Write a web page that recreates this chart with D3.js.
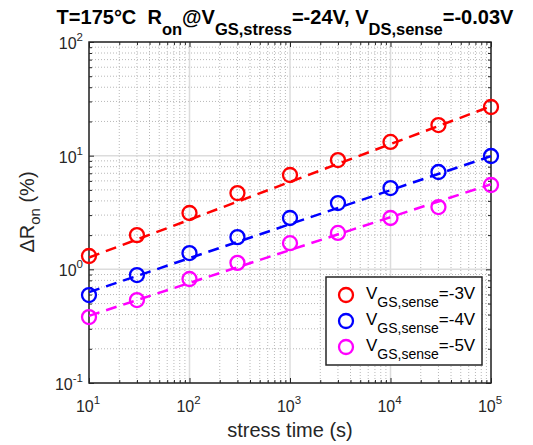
<!DOCTYPE html>
<html><head><meta charset="utf-8">
<script src="https://cdn.jsdelivr.net/npm/d3@7"></script>
<style>
html,body{margin:0;padding:0;background:#fff;}
svg{display:block;font-family:"Liberation Sans",Arial,Helvetica,sans-serif;}
</style></head>
<body>
<svg id="chart" width="533" height="445"></svg>
<script>
// ---- data ----
const times = [10, 30, 100, 300, 1000, 3000, 10000, 30000, 100000];
const vgs3 = [1.31, 2.00, 3.13, 4.69, 6.76, 9.15, 13.2, 18.6, 26.8];
const vgs4 = [0.594, 0.891, 1.39, 1.92, 2.83, 3.83, 5.19, 7.18, 9.93];
const vgs5 = [0.380, 0.537, 0.822, 1.14, 1.70, 2.09, 2.83, 3.53, 5.52];
const fitTimes = [10, 100000];
const fit3 = [1.27, 27.2];
const fit4 = [0.63, 9.9];
const fit5 = [0.39, 5.6];
const seriesNames = ["-3V", "-4V", "-5V"];
const seriesColors = ["#ff0000", "#0000ff", "#ff00ff"];
const xTickExps = [1, 2, 3, 4, 5];
const yTickExps = [-1, 0, 1, 2];

const svg = d3.select("#chart");
const L = 89, R = 491, T = 42, B = 383;
const x = d3.scaleLog().domain([10, 1e5]).range([L, R]);
const y = d3.scaleLog().domain([0.1, 100]).range([B, T]);

function minors(lo, hi) {
  const out = [];
  for (let e = lo; e < hi; e++) for (let m = 2; m <= 9; m++) out.push(m * Math.pow(10, e));
  return out;
}
const xMajor = xTickExps.map(e => Math.pow(10, e));
const yMajor = yTickExps.map(e => Math.pow(10, e));
const xMinor = minors(1, 5);
const yMinor = minors(-1, 2);

const axisColor = "#262626";

// ---- grid ----
const grid = svg.append("g");
grid.selectAll(".gxm").data(xMinor).enter().append("line")
  .attr("x1", d => x(d)).attr("x2", d => x(d)).attr("y1", T).attr("y2", B)
  .attr("stroke", "#b8b8b8").attr("stroke-width", 1).attr("stroke-dasharray", "1,2");
grid.selectAll(".gym").data(yMinor).enter().append("line")
  .attr("y1", d => y(d)).attr("y2", d => y(d)).attr("x1", L).attr("x2", R)
  .attr("stroke", "#b8b8b8").attr("stroke-width", 1).attr("stroke-dasharray", "1,2");
grid.selectAll(".gx").data(xMajor).enter().append("line")
  .attr("x1", d => x(d)).attr("x2", d => x(d)).attr("y1", T).attr("y2", B)
  .attr("stroke", "#dcdcdc").attr("stroke-width", 1.5);
grid.selectAll(".gy").data(yMajor).enter().append("line")
  .attr("y1", d => y(d)).attr("y2", d => y(d)).attr("x1", L).attr("x2", R)
  .attr("stroke", "#dcdcdc").attr("stroke-width", 1.5);

// ---- axes ticks (inside, all four sides) ----
function styleAxis(g) {
  g.select(".domain").remove();
  g.selectAll("line").attr("stroke", axisColor).attr("stroke-width", 1);
  g.selectAll("text").remove();
}
svg.append("g").attr("transform", `translate(0,${B})`)
  .call(d3.axisBottom(x).tickValues(xMajor).tickSize(-5).tickFormat("")).call(styleAxis);
svg.append("g").attr("transform", `translate(0,${B})`)
  .call(d3.axisBottom(x).tickValues(xMinor).tickSize(-3).tickFormat("")).call(styleAxis);
svg.append("g").attr("transform", `translate(0,${T})`)
  .call(d3.axisTop(x).tickValues(xMajor).tickSize(-5).tickFormat("")).call(styleAxis);
svg.append("g").attr("transform", `translate(0,${T})`)
  .call(d3.axisTop(x).tickValues(xMinor).tickSize(-3).tickFormat("")).call(styleAxis);
svg.append("g").attr("transform", `translate(${L},0)`)
  .call(d3.axisLeft(y).tickValues(yMajor).tickSize(-5).tickFormat("")).call(styleAxis);
svg.append("g").attr("transform", `translate(${L},0)`)
  .call(d3.axisLeft(y).tickValues(yMinor).tickSize(-3).tickFormat("")).call(styleAxis);
svg.append("g").attr("transform", `translate(${R},0)`)
  .call(d3.axisRight(y).tickValues(yMajor).tickSize(-5).tickFormat("")).call(styleAxis);
svg.append("g").attr("transform", `translate(${R},0)`)
  .call(d3.axisRight(y).tickValues(yMinor).tickSize(-3).tickFormat("")).call(styleAxis);

svg.append("rect").attr("x", L).attr("y", T).attr("width", R - L).attr("height", B - T)
  .attr("fill", "none").attr("stroke", axisColor).attr("stroke-width", 1.5);

// ---- tick labels ----
const tickFont = 16, expFont = 11.5;
xTickExps.forEach(e => {
  const t = svg.append("text").attr("x", x(Math.pow(10, e)) - 1).attr("y", 412)
    .attr("text-anchor", "middle").attr("font-size", tickFont).attr("fill", axisColor);
  t.append("tspan").text("10");
  t.append("tspan").attr("dy", -8).attr("font-size", expFont).text(e);
});
yTickExps.forEach(e => {
  const t = svg.append("text").attr("x", 83).attr("y", y(Math.pow(10, e)) + 7)
    .attr("text-anchor", "end").attr("font-size", tickFont).attr("fill", axisColor);
  t.append("tspan").text("10");
  t.append("tspan").attr("dy", -8).attr("font-size", expFont).text(e);
});

// ---- axis labels ----
svg.append("text").attr("x", 290).attr("y", 437).attr("text-anchor", "middle")
  .attr("font-size", 20).attr("fill", axisColor).text("stress time (s)");
const yl = svg.append("text").attr("transform", "translate(34,212) rotate(-90)")
  .attr("text-anchor", "middle").attr("font-size", 20).attr("fill", axisColor);
yl.append("tspan").text("\u0394R");
yl.append("tspan").attr("dy", 6).attr("font-size", 15).text("on");
yl.append("tspan").attr("dy", -6).text("\u00A0(%)");

// ---- title ----
const title = svg.append("text").attr("x", 285).attr("y", 24).attr("text-anchor", "middle")
  .attr("font-size", 20).attr("font-weight", "bold").attr("fill", "#000");
const subDy = 11, subFont = 16.5;
title.append("tspan").text("T=175\u00B0C\u00A0\u00A0R");
title.append("tspan").attr("dy", subDy).attr("font-size", subFont).text("on");
title.append("tspan").attr("dy", -subDy).text("@V");
title.append("tspan").attr("dy", subDy).attr("font-size", subFont).text("GS,stress");
title.append("tspan").attr("dy", -subDy).text("=-24V, V");
title.append("tspan").attr("dy", subDy).attr("font-size", subFont).text("DS,sense");
title.append("tspan").attr("dy", -subDy).text("=-0.03V");

// ---- data: fits and markers ----
const allSeries = [vgs3, vgs4, vgs5];
const allFits = [fit3, fit4, fit5];
const line = d3.line().x(d => x(d[0])).y(d => y(d[1]));
allFits.forEach((f, i) => {
  svg.append("path").datum(fitTimes.map((t, k) => [t, f[k]]))
    .attr("d", line).attr("fill", "none").attr("stroke", seriesColors[i])
    .attr("stroke-width", 2.5).attr("stroke-dasharray", "11,7");
});
allSeries.forEach((s, i) => {
  svg.append("g").selectAll("circle").data(times.map((t, k) => [t, s[k]])).enter()
    .append("circle").attr("cx", d => x(d[0])).attr("cy", d => y(d[1])).attr("r", 7)
    .attr("fill", "none").attr("stroke", seriesColors[i]).attr("stroke-width", 2.3);
});

// ---- legend ----
const lg = svg.append("g");
lg.append("rect").attr("x", 326).attr("y", 277).attr("width", 156).attr("height", 88)
  .attr("fill", "#fff").attr("stroke", axisColor).attr("stroke-width", 1.5);
seriesNames.forEach((n, i) => {
  const cy = 295 + i * 26;
  lg.append("circle").attr("cx", 346).attr("cy", cy).attr("r", 7)
    .attr("fill", "none").attr("stroke", seriesColors[i]).attr("stroke-width", 2.3);
  const t = lg.append("text").attr("x", 366).attr("y", cy + 4).attr("font-size", 17).attr("fill", "#000");
  t.append("tspan").text("V");
  t.append("tspan").attr("dy", 8).attr("font-size", 14).text("GS,sense");
  t.append("tspan").attr("dy", -8).text("=" + n);
});
</script>
</body></html>
